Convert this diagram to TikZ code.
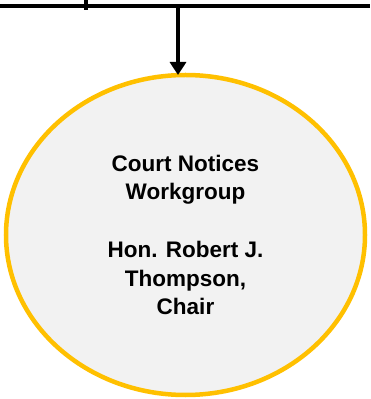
\documentclass[tikz,border=0pt]{standalone}
\usepackage{fontspec}
\setmainfont{Liberation Sans}
\usetikzlibrary{shapes.geometric,arrows.meta}

\definecolor{gold}{HTML}{FFC000}
\definecolor{oval}{HTML}{F2F2F2}

\begin{document}
\begin{tikzpicture}[x=1pt,y=1pt]

    \useasboundingbox (0,0) rectangle (370,399);

    %% Workgroup oval
    \node[ellipse, draw=gold, fill=oval, line width=4.5, inner sep=0, outer sep=0,
          minimum width=359, minimum height=320, align=center,
          font=\bfseries\fontsize{22.5}{28.7}\selectfont] (wg) at (185.5,164)
          {Court Notices\\Workgroup\\[28.7pt]Hon. Robert J.\\Thompson,\\Chair};

    % Bus line from above
    \coordinate (bus west) at (0,393);
    \coordinate (bus east) at (370,393);
    \coordinate (bus drop) at (178,393);
    \draw[line width=4.5] (bus west) -- (bus east);

    % Stub of the neighbouring branch
    \coordinate (stub top) at (86,399);
    \coordinate (stub end) at (86,389);
    \draw[line width=4.5] (stub top) -- (stub end);

    % Arrow down to the oval
    \draw[line width=4.5, -{Triangle[length=13,width=16]}] (bus drop) -- (wg.north -| bus drop);

\end{tikzpicture}
\end{document}
